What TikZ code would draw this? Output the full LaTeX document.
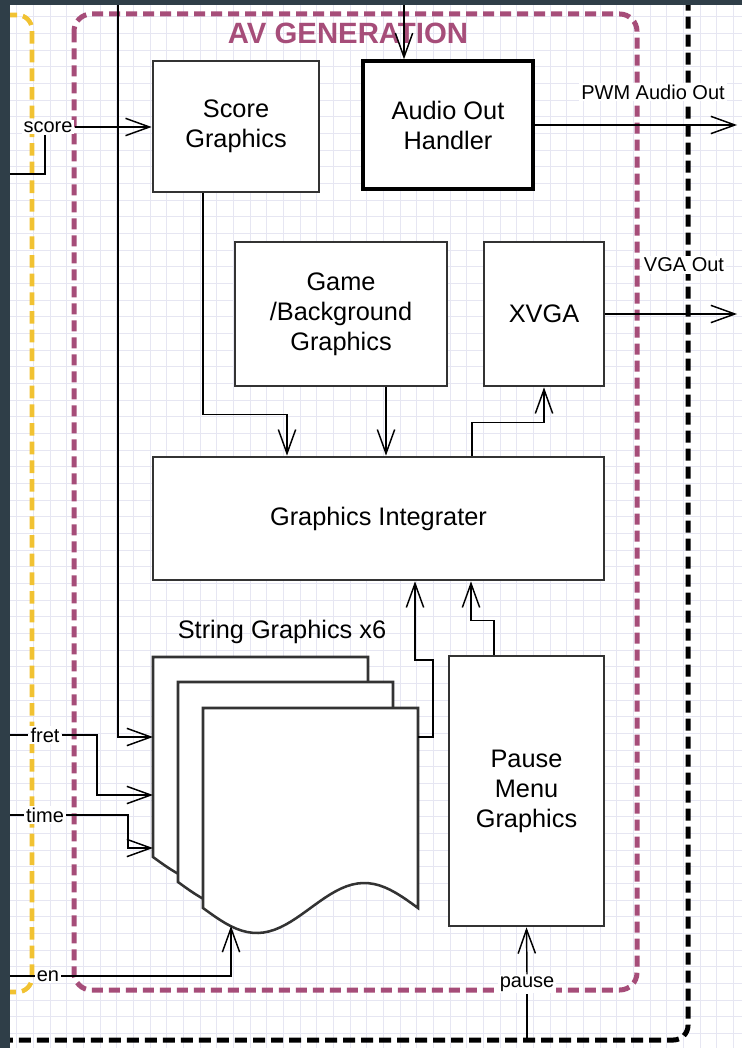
\documentclass[tikz,border=0pt]{standalone}
\usepackage{fontspec}
\setmainfont{Liberation Sans}
\usetikzlibrary{arrows.meta,calc}

\definecolor{frameDark}{RGB}{47,62,72}
\definecolor{avPurple}{RGB}{166,77,121}
\definecolor{ctlYellow}{RGB}{241,194,50}
\definecolor{gridLine}{RGB}{230,230,242}

\begin{document}
\begin{tikzpicture}[x=0.75pt,y=-0.75pt,
		blk/.style 2 args={draw=black!80,line width=2pt,fill=white,minimum width=#1*0.75pt,minimum height=#2*0.75pt,inner sep=0pt,align=center,font=\fontsize{19}{22.5}\selectfont},
		txt/.style={font=\fontsize{19}{22.5}\selectfont},
		lbl/.style={fill=white,inner sep=1.5pt,font=\fontsize{15}{17}\selectfont},
		arr/.style={-{Straight Barb[length=18pt,width=13pt]},line width=1.1pt},
		wire/.style={line width=1.1pt},
		docline/.style={draw=black!80,line width=1.9pt,fill=white}]
		\useasboundingbox (0,0) rectangle (742,1048);
		\clip (0,0) rectangle (742,1048);
		% 网格背景
		\fill[white] (0,0) rectangle (742,1048);
		\draw[gridLine,line width=0.4pt,step=12.5pt] (0,0) grid (742,1048);
		% 虚线框
		\draw[ctlYellow,line width=3.4pt,dash pattern=on 9.5pt off 4.5pt,rounded corners=11pt] (-30,15) rectangle (32,992);
		\draw[avPurple,line width=3.75pt,dash pattern=on 8.25pt off 4.5pt,rounded corners=13pt] (74,14) rectangle (637,990);
		\draw[black,line width=3.75pt,dash pattern=on 9pt off 4.5pt,rounded corners=11pt] (-30,-30) rectangle (688,1040);
		\node[font=\fontsize{22}{26}\selectfont\bfseries,text=avPurple] (avtitle) at (348,33) {AV GENERATION};
		% 模块
		\node[blk={166}{131}] (score) at (236,126.5) {Score\\Graphics};
		\node[blk={170}{128},draw=black,line width=2.6pt] (audio) at (448,125) {Audio Out\\Handler};
		\node[blk={212}{144}] (game) at (341,314) {Game\\/Background\\Graphics};
		\node[blk={120}{144}] (xvga) at (544,314) {XVGA};
		\node[blk={451}{123}] (integ) at (378.5,518.5) {Graphics Integrater};
		\node[blk={155}{270}] (pause) at (526.5,791) {Pause\\Menu\\Graphics};
		% 字符串图形 x6
		\foreach \i/\dx/\dy in {1/153/657,2/178/682,3/203/708} {
			\begin{scope}[shift={(\dx,\dy)}]
				\draw[docline] (0,0) -- (215,0) -- (215,200)
					-- plot[domain=215:0,samples=40] (\x,{200+25*sin(1.67442*\x)}) -- cycle;
				\coordinate (sg\i) at (0,0);
			\end{scope}
		}
		\node[txt] (sglab) at (282,632) {String Graphics x6};
		% 输入信号
		\node[lbl] (lscore) at (48,127) {score};
		\node[lbl] (lfret) at (45,735) {fret};
		\node[lbl] (ltime) at (45,815) {time};
		\node[lbl] (len) at (48,976) {en};
		\node[lbl] (lpause) at (527,984) {pause};
		\coordinate (scoreIn) at (10,174);
		\coordinate (fretIn) at (10,735);
		\coordinate (timeIn) at (10,815);
		\coordinate (enIn) at (10,976);
		\coordinate (pauseIn) at (527,1040);
		\coordinate (topA) at (404,0);
		\coordinate (topS) at (118,0);
		\draw[wire] (scoreIn) -| ($(lscore.south)+(-3,0)$);
		\draw[arr] (lscore.east) -- (score.west |- lscore.east);
		\draw[wire] (fretIn) -- (lfret.west);
		\draw[arr] (lfret.east) -| ($(sg1)+(-56,138)$) -- ($(sg1)+(0,138)$);
		\draw[wire] (timeIn) -- (ltime.west);
		\draw[arr] (ltime.east) -| ($(sg1)+(-25,191)$) -- ($(sg1)+(0,191)$);
		\draw[wire] (enIn) -- (len.west);
		\draw[arr] (len.east) -| ($(sg3)+(28,218)$);
		\draw[wire] (pauseIn) -- (lpause.south);
		\draw[arr] (lpause.north) -- (pause.south);
		\draw[arr] (topA) -- (topA |- audio.north);
		\draw[arr] (topS) |- ($(sg1)+(0,80)$);
		% 内部连线
		\draw[arr] ($(score.south)+(-33,0)$) |- ($(integ.north)+(-91.5,-41)$) -- ($(integ.north)+(-91.5,0)$);
		\draw[arr] ($(game.south)+(45,0)$) -- ($(integ.north)+(7.5,0)$);
		\draw[arr] ($(integ.north)+(93.5,0)$) |- ($(xvga.south)+(0,35)$) -- (xvga.south);
		\draw[arr] ($(sg3)+(215,29)$) -| ($(sg3)+(230,-48)$) -| ($(integ.south)+(36.5,0)$);
		\draw[arr] ($(pause.north)+(-32.5,0)$) |- ($(integ.south)+(92.5,39)$) -- ($(integ.south)+(92.5,0)$);
		% 输出
		\coordinate (pwmOut) at (737,125);
		\coordinate (vgaOut) at (737,314);
		\draw[arr] (audio.east) -- (pwmOut);
		\draw[arr] (xvga.east) -- (vgaOut);
		\node[lbl] (lpwm) at (653,92) {PWM Audio Out};
		\node[lbl] (lvga) at (684,265) {VGA Out};
		% 边缘
		\fill[frameDark] (0,0) rectangle (10,1048);
		\fill[frameDark] (0,0) rectangle (742,5);
	\end{tikzpicture}
\end{document}
